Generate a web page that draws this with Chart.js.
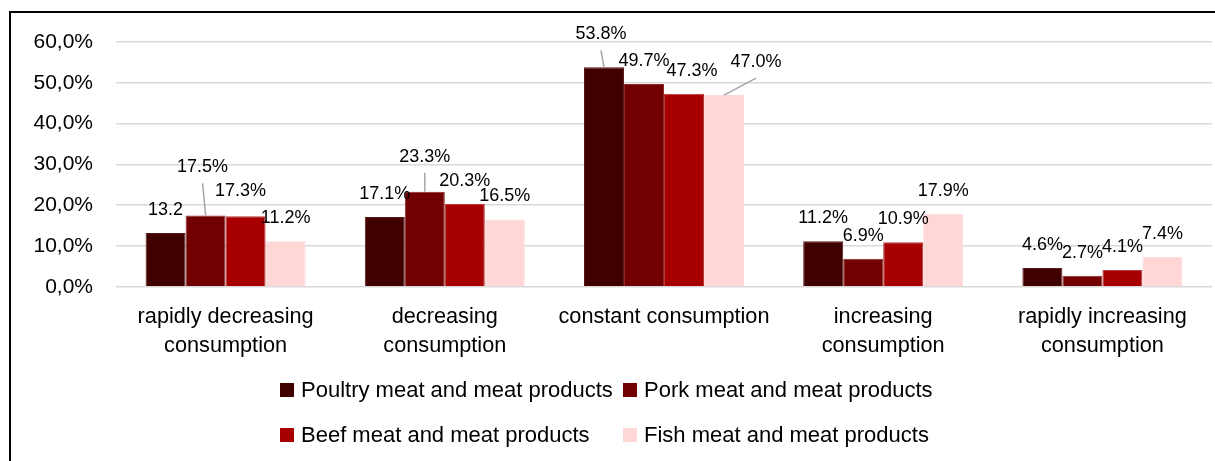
<!DOCTYPE html>
<html>
<head>
<meta charset="utf-8">
<script src="https://cdn.jsdelivr.net/npm/chart.js@4"></script>
<style>
  html, body { margin: 0; padding: 0; background: #fff; }
  #wrap { position: relative; width: 1215px; height: 461px; }
  #frame {
    position: absolute; left: 9px; top: 11px; right: 0; bottom: 0;
    border-top: 2px solid #000; border-left: 2px solid #000;
    pointer-events: none;
  }
  #legend {
    position: absolute; left: 280px; top: 367px;
    display: grid; grid-template-columns: 343px auto;
    font: 22px "Liberation Sans", sans-serif; color: #000;
  }
  .legend-item { display: flex; align-items: center; height: 45px; white-space: nowrap; }
  .legend-item i { display: inline-block; width: 14px; height: 14px; margin-right: 7px; }
</style>
</head>
<body>
<div id="wrap">
  <canvas id="consumptionChart" width="1215" height="461"></canvas>
  <div id="legend"></div>
  <div id="frame"></div>
</div>
<script>
// Share of respondents by change in consumption, per meat group (%)
const categories = [
    ['rapidly decreasing', 'consumption'],
    ['decreasing', 'consumption'],
    ['constant consumption'],
    ['increasing', 'consumption'],
    ['rapidly increasing', 'consumption']
];
const poultry = [13.2, 17.1, 53.8, 11.2, 4.6];
const pork    = [17.5, 23.3, 49.7, 6.9, 2.7];
const beef    = [17.3, 20.3, 47.3, 10.9, 4.1];
const fish    = [11.2, 16.5, 47.0, 17.9, 7.4];
const seriesNames = [
    'Poultry meat and meat products',
    'Pork meat and meat products',
    'Beef meat and meat products',
    'Fish meat and meat products'
];
const yTicks = [0, 10, 20, 30, 40, 50, 60];

const colors = ['#400000', '#730000', '#a80000', '#ffd7d7'];
const edges  = ['#5a1a1a', '#8a2a2a', '#b83a3a', '#ffd7d7'];
const FONT = 'Liberation Sans';

// hand-placed labels: key is "dataset-index", dx/dy move the text, lead draws a connector
const labelNudges = {
    '0-0': { text: '13.2' },
    '1-0': { dx: -3, dy: -48, lead: true },
    '2-0': { dx: -5, dy: -25 },
    '1-1': { dy: -35, lead: true },
    '0-2': { dx: -3, dy: -33, lead: true },
    '2-2': { dx: 8 },
    '3-2': { dx: 32, dy: -33, lead: true }
};

const barLabels = {
    id: 'barLabels',
    afterDatasetsDraw(chart) {
        const ctx = chart.ctx;
        ctx.save();
        ctx.font = `18px "${FONT}"`;
        ctx.textAlign = 'center';
        ctx.textBaseline = 'middle';
        chart.data.datasets.forEach((ds, di) => {
            chart.getDatasetMeta(di).data.forEach((bar, i) => {
                const n = labelNudges[`${di}-${i}`] || {};
                const x = bar.x + (n.dx || 0);
                const y = bar.y + (n.dy !== undefined ? n.dy : -23);
                if (n.lead) {
                    ctx.strokeStyle = '#a6a6a6';
                    ctx.lineWidth = 1.5;
                    ctx.beginPath();
                    ctx.moveTo(x, y + 16);
                    ctx.lineTo(bar.x, bar.y);
                    ctx.stroke();
                }
                ctx.fillStyle = '#000';
                ctx.fillText(n.text || ds.data[i].toFixed(1) + '%', x, y);
            });
        });
        ctx.restore();
    }
};

const series = [poultry, pork, beef, fish];

const chart = new Chart(document.getElementById('consumptionChart'), {
    type: 'bar',
    data: {
        labels: categories,
        datasets: series.map((data, k) => ({
            label: seriesNames[k],
            data,
            backgroundColor: colors[k],
            borderColor: edges[k],
            borderWidth: 1,
            categoryPercentage: 0.73,
            barPercentage: 1
        }))
    },
    options: {
        responsive: false,
        animation: false,
        layout: { padding: { left: 0, right: 3, top: 42, bottom: 84 } },
        plugins: {
            legend: { display: false },
            tooltip: { enabled: false }
        },
        scales: {
            x: {
                grid: { display: false, drawTicks: false },
                border: { display: false },
                ticks: {
                    padding: 16,
                    color: '#000',
                    maxRotation: 0,
                    autoSkip: false,
                    font: { family: FONT, size: 21.7, lineHeight: 1.34 }
                }
            },
            y: {
                min: 0,
                max: 60,
                afterFit(axis) { axis.width = 116; },
                afterBuildTicks(axis) { axis.ticks = yTicks.map(v => ({ value: v })); },
                grid: { color: '#d9d9d9', lineWidth: 1.5, drawTicks: false },
                border: { display: false },
                ticks: {
                    padding: 23,
                    color: '#000',
                    font: { family: FONT, size: 21 },
                    callback: v => v.toFixed(1).replace('.', ',') + '%'
                }
            }
        }
    },
    plugins: [barLabels]
});

// two-column legend under the axis
const legendEl = document.getElementById('legend');
chart.data.datasets.forEach(ds => {
    const item = document.createElement('div');
    item.className = 'legend-item';
    item.innerHTML = `<i style="background:${ds.backgroundColor}"></i><span>${ds.label}</span>`;
    legendEl.appendChild(item);
});
</script>
</body>
</html>
